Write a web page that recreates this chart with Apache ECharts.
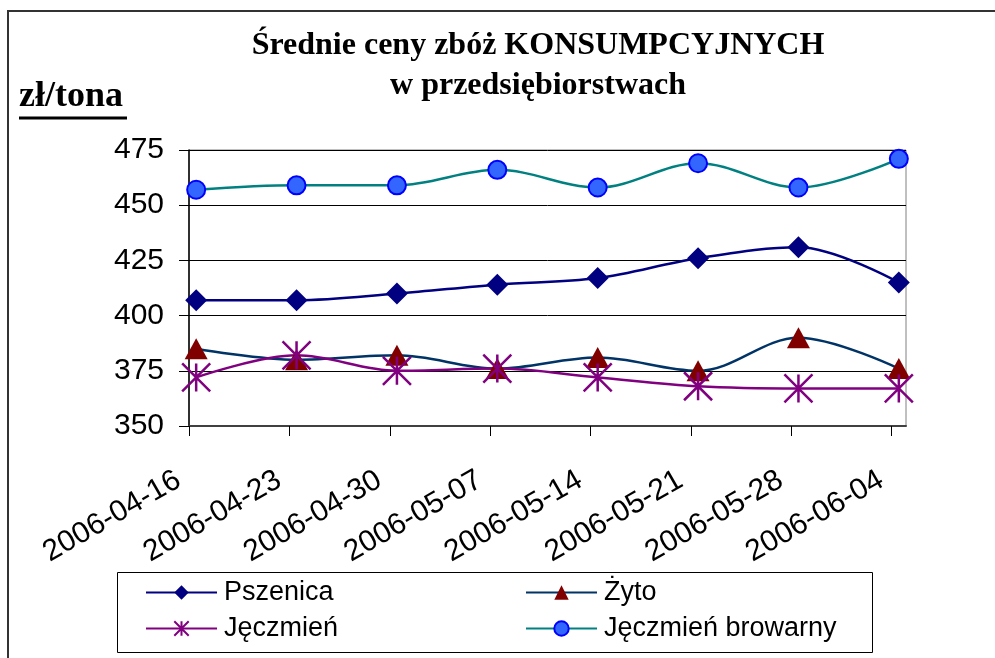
<!DOCTYPE html>
<html>
<head>
<meta charset="utf-8">
<script src="https://cdn.jsdelivr.net/npm/echarts@6/dist/echarts.min.js"></script>
<style>html,body{margin:0;padding:0;background:#fff;}#c{width:995px;height:658px;}</style>
</head>
<body>
<div id="c"></div>
<script>
const titleText = 'Średnie ceny zbóż KONSUMPCYJNYCH\nw przedsiębiorstwach';
const unitText = 'zł/tona';
const dates = ['2006-04-16','2006-04-23','2006-04-30','2006-05-07','2006-05-14','2006-05-21','2006-05-28','2006-06-04'];
const pszenica = [407, 407, 410, 414, 417, 426, 431, 415];
const zyto     = [385, 380, 382, 376, 381, 375, 390, 376];
const jeczmien = [372, 382, 375, 376, 372, 368, 367, 367];
const browarny = [457, 459, 459, 466, 458, 469, 458, 471];
const seriesNames = ['Pszenica', 'Żyto', 'Jęczmień', 'Jęczmień browarny'];
const yMin = 350, yMax = 475, yStep = 25;

const DAY = 86400000;
const t0 = Date.parse(dates[0]);
const dayIdx = dates.map(d => Math.round((Date.parse(d) - t0) / DAY));
const xMax = dayIdx[dayIdx.length - 1] + 1;
const pts = arr => arr.map((v, i) => [dayIdx[i] + 0.5, v]);

const SANS = '"Liberation Sans", Arial, sans-serif';
const SERIF = '"Liberation Serif", "Times New Roman", serif';
const star = 'path://M1,0L1,2M0,0L2,2M0,2L2,0';

const chart = echarts.init(document.getElementById('c'), null, {renderer: 'canvas'});
chart.setOption({
  animation: false,
  backgroundColor: '#fff',
  title: [
    {text: titleText, left: 538, textAlign: 'center', top: 26, padding: 0,
     textStyle: {fontFamily: SERIF, fontWeight: 'bold', fontSize: 32, lineHeight: 40, color: '#000'}},
    {text: unitText, left: 19, top: 79, padding: 0,
     textStyle: {fontFamily: SERIF, fontWeight: 'bold', fontSize: 36, color: '#000'}}
  ],
  graphic: [
    {type: 'line', shape: {x1: 19, y1: 118, x2: 127, y2: 118}, style: {stroke: '#000', lineWidth: 3}},
    {type: 'polyline', shape: {points: [[8, 658], [8, 11], [995, 11]]}, style: {stroke: '#333', lineWidth: 2, fill: null}},
    {type: 'rect', shape: {x: 117.5, y: 572.5, width: 755, height: 80}, style: {stroke: '#000', lineWidth: 1, fill: null}, z: -1}
  ],
  grid: {left: 189, right: 89, top: 150, bottom: 232, show: true, borderColor: '#808080', borderWidth: 1},
  legend: [
    {data: [seriesNames[0], seriesNames[2]], orient: 'vertical', left: 145, top: 579, padding: 0,
     itemWidth: 71, itemHeight: 18, itemGap: 9,
     textStyle: {fontFamily: SANS, fontSize: 27, color: '#000', padding: [0, 0, 0, 2]}},
    {data: [seriesNames[1], seriesNames[3]], orient: 'vertical', left: 525, top: 579, padding: 0,
     itemWidth: 71, itemHeight: 18, itemGap: 9,
     textStyle: {fontFamily: SANS, fontSize: 27, color: '#000', padding: [0, 0, 0, 2]}}
  ],
  xAxis: {
    type: 'value', min: 0, max: xMax, interval: 7,
    splitLine: {show: false},
    axisLine: {lineStyle: {color: '#404040', width: 2}},
    axisTick: {show: true, length: 10, customValues: dayIdx, lineStyle: {color: '#000', width: 1}},
    axisLabel: {
      customValues: dayIdx, rotate: 30, margin: 46, padding: [0, 12, 0, 0],
      fontFamily: SANS, fontSize: 30, color: '#000',
      formatter: v => { const i = dayIdx.indexOf(Math.round(v)); return i >= 0 ? dates[i] : ''; }
    }
  },
  yAxis: {
    type: 'value', min: yMin, max: yMax, interval: yStep,
    axisLine: {show: true, lineStyle: {color: '#000', width: 1.5}},
    axisTick: {show: true, length: 10, lineStyle: {color: '#000', width: 1}},
    splitLine: {show: true, lineStyle: {color: '#000', width: 1}},
    axisLabel: {margin: 25, fontFamily: SANS, fontSize: 30, color: '#000'}
  },
  series: [
    {name: seriesNames[0], type: 'line', data: pts(pszenica), smooth: 0.35,
     symbol: 'diamond', symbolSize: [22, 22],
     lineStyle: {color: '#000080', width: 2.5}, itemStyle: {color: '#000080'}},
    {name: seriesNames[1], type: 'line', data: pts(zyto), smooth: 0.35,
     symbol: 'triangle', symbolSize: [23, 21],
     lineStyle: {color: '#003366', width: 2.5}, itemStyle: {color: '#800000'}},
    {name: seriesNames[2], type: 'line', data: pts(jeczmien), smooth: 0.35,
     symbol: star, symbolSize: 28,
     lineStyle: {color: '#800080', width: 2.5},
     itemStyle: {color: '#800080', borderColor: '#800080', borderWidth: 2.5}},
    {name: seriesNames[3], type: 'line', data: pts(browarny), smooth: 0.35,
     symbol: 'circle', symbolSize: 18,
     lineStyle: {color: '#008080', width: 2.5},
     itemStyle: {color: '#3366FF', borderColor: '#0000FF', borderWidth: 2}}
  ]
});
</script>
</body>
</html>
